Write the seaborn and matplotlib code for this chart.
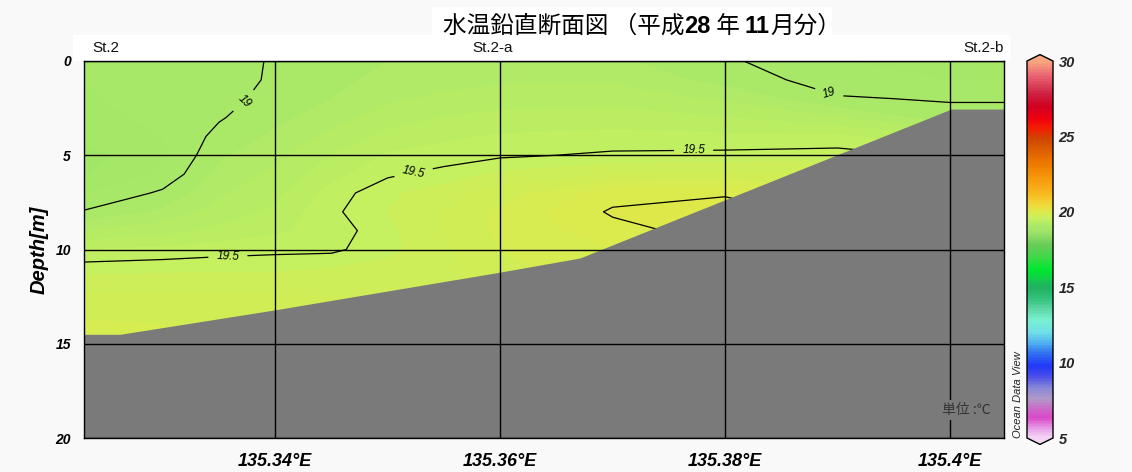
import numpy as np
import pandas as pd
import seaborn as sns
import matplotlib.pyplot as plt
from matplotlib.colors import LinearSegmentedColormap
from matplotlib.patches import Rectangle

# section grid: longitude [deg E] x depth [m], temperature [degC]
lons = [135.323, 135.33, 135.335, 135.34, 135.345, 135.35, 135.355,
        135.36, 135.37, 135.38, 135.39, 135.40, 135.405]
depths = [0, 1, 2, 3, 4, 5, 6, 7, 8, 9, 10, 11, 12, 14, 20]
temp = [
    [18.90, 18.95, 18.96, 19.01, 19.05, 19.10, 19.12, 19.14, 19.12, 19.02, 18.90, 18.85, 18.85],
    [18.90, 18.94, 18.97, 19.01, 19.07, 19.13, 19.16, 19.18, 19.18, 19.06, 18.95, 18.90, 18.90],
    [18.89, 18.93, 18.97, 19.03, 19.10, 19.18, 19.22, 19.25, 19.26, 19.18, 19.01, 18.99, 18.99],
    [18.87, 18.92, 18.99, 19.07, 19.15, 19.25, 19.30, 19.33, 19.35, 19.30, 19.20, 19.04, 19.04],
    [18.84, 18.90, 19.03, 19.12, 19.22, 19.33, 19.38, 19.41, 19.43, 19.42, 19.42, 19.30, 19.30],
    [18.76, 18.88, 19.08, 19.17, 19.30, 19.41, 19.44, 19.48, 19.52, 19.53, 19.55, 19.48, 19.48],
    [18.79, 18.92, 19.13, 19.22, 19.36, 19.48, 19.54, 19.62, 19.70, 19.72, 19.70, 19.60, 19.60],
    [18.89, 19.02, 19.18, 19.27, 19.44, 19.58, 19.65, 19.75, 19.95, 19.98, 19.85, 19.70, 19.70],
    [19.01, 19.12, 19.24, 19.32, 19.475, 19.60, 19.70, 19.82, 20.016, 20.08, 19.95, 19.80, 19.80],
    [19.20, 19.26, 19.32, 19.38, 19.44, 19.57, 19.70, 19.82, 19.96, 20.05, 19.98, 19.85, 19.85],
    [19.40, 19.42, 19.45, 19.47, 19.475, 19.57, 19.68, 19.80, 19.90, 19.99, 19.98, 19.85, 19.85],
    [19.55, 19.57, 19.58, 19.58, 19.60, 19.63, 19.66, 19.78, 19.85, 19.95, 19.95, 19.85, 19.85],
    [19.68, 19.68, 19.68, 19.68, 19.68, 19.68, 19.68, 19.75, 19.80, 19.90, 19.90, 19.85, 19.85],
    [19.82, 19.80, 19.80, 19.78, 19.76, 19.75, 19.75, 19.75, 19.78, 19.85, 19.85, 19.85, 19.85],
    [19.85, 19.85, 19.85, 19.82, 19.80, 19.80, 19.80, 19.80, 19.80, 19.85, 19.85, 19.85, 19.85],
]

# sea floor along the section
bottom_lon = [135.323, 135.3262, 135.34, 135.36, 135.3671, 135.4001, 135.405]
bottom_depth = [14.5, 14.5, 13.2, 11.2, 10.45, 2.55, 2.55]

contour_levels = [19, 19.5, 20]
label_levels = [19, 19.5]
label_pos = [(135.3372, 2.1), (135.3892, 1.8), (135.3523, 5.9),
             (135.3772, 4.7), (135.3358, 10.45)]

stations = ['St.2', 'St.2-a', 'St.2-b']
station_lon = [135.3237, 135.3593, 135.4048]
station_ha = ['left', 'center', 'right']

xticks = [135.34, 135.36, 135.38, 135.40]
xtick_labels = ['135.34°E', '135.36°E', '135.38°E', '135.4°E']
xminor = [135.33, 135.35, 135.37, 135.39]
yticks = [0, 5, 10, 15, 20]
yminor = [2.5, 7.5, 12.5, 17.5]

cbar_ticks = [5, 10, 15, 20, 25, 30]
cmap_values = [5.0, 5.6, 6.3, 7.0, 7.6, 8.3, 9.0, 9.8, 10.6, 11.3, 12.0, 12.8,
               13.5, 14.3, 15.0, 15.6, 16.2, 17.0, 17.8, 18.5, 18.8, 19.0, 19.5, 20.0,
               20.5, 21.2, 22.0, 23.0, 24.0, 24.8, 25.5, 26.2, 27.0, 28.0, 29.0, 30.0]
cmap_colors = ['#f4d4f4', '#e8a0e8', '#d848c8', '#c870c8', '#b098c8', '#8888d8',
               '#5050e8', '#2038f8', '#3070f0', '#50b0f0', '#70e0e8', '#78f0d0',
               '#60d8a8', '#30c078', '#20b060', '#10d048', '#00e830', '#40d848',
               '#68cc58', '#96de68', '#a4e868', '#a8e868', '#c4f060', '#dcea4c',
               '#f0d838', '#f8b820', '#f8a010', '#f08000', '#e06000', '#d04800',
               '#f02000', '#f00010', '#d00020', '#d02848', '#e86070', '#f8a880']

title_parts = ['水温鉛直断面図 （平成', '28', ' 年 ', '11', '月分）']
title_bold = [False, True, False, True, False]

sns.set_theme(style='white')
plt.rcParams['font.family'] = ['Liberation Sans', 'Noto Sans CJK JP', 'DejaVu Sans']
cjk = ['Noto Sans CJK JP', 'Liberation Sans', 'DejaVu Sans']

W, H = 1132, 472
ext = 0.017
fig = plt.figure(figsize=(W / 100, H / 100), dpi=100, facecolor='#f9f9f9')
ax = fig.add_axes([84 / W, 34 / H, 920 / W, 377 / H])
cax = fig.add_axes([1027 / W, (34 - 377 * ext) / H, 26 / W, 377 * (1 + 2 * ext) / H])

# white bands behind title and station names
fig.patches.append(Rectangle((73 / W, 1 - 61 / H), 938 / W, 26 / H, transform=fig.transFigure,
                             facecolor='white', edgecolor='none', zorder=-1))
fig.patches.append(Rectangle((432 / W, 1 - 35 / H), 400 / W, 28 / H, transform=fig.transFigure,
                             facecolor='white', edgecolor='none', zorder=-1))

pos = [(v - cmap_values[0]) / (cmap_values[-1] - cmap_values[0]) for v in cmap_values]
cmap = LinearSegmentedColormap.from_list('odv', list(zip(pos, cmap_colors)), N=512)
cmap.set_under(cmap_colors[0])
cmap.set_over(cmap_colors[-1])

grid = pd.DataFrame(temp, index=depths, columns=lons)
X, Y = np.meshgrid(grid.columns.values, grid.index.values)
cf = ax.contourf(X, Y, grid.values, levels=np.linspace(5, 30, 251), cmap=cmap,
                 extend='both', zorder=0)
cs = ax.contour(X, Y, grid.values, levels=contour_levels, colors='black',
                linewidths=0.9, zorder=1)
labels = ax.clabel(cs, levels=label_levels, manual=label_pos, inline=True,
                   fmt='%g', fontsize=8.5, inline_spacing=8)
for t in labels:
    t.set_fontstyle('italic')

ax.fill_between(bottom_lon, bottom_depth, 20, color='#7a7a7a', linewidth=0, zorder=2)

ax.set_xlim(135.323, 135.4048)
ax.set_ylim(20, 0)
ax.set_xticks(xticks)
ax.set_xticklabels(xtick_labels, fontsize=13, fontweight='bold', fontstyle='italic')
ax.set_xticks(xminor, minor=True)
ax.set_yticks(yticks)
ax.set_yticklabels([str(v) for v in yticks], fontsize=10, fontweight='bold', fontstyle='italic')
ax.set_yticks(yminor, minor=True)
ax.tick_params(axis='both', which='both', direction='out', length=6.5, width=1,
               color='black', labelcolor='black')
ax.tick_params(axis='x', which='major', pad=4)
ax.tick_params(axis='y', which='major', pad=3)
ax.grid(True, which='major', color='black', linewidth=1)
ax.set_axisbelow(False)
for s in ax.spines.values():
    s.set_color('black')
    s.set_linewidth(1)
    s.set_zorder(5)

ax.set_ylabel('Depth[m]', fontsize=14.5, fontweight='bold', fontstyle='italic',
              color='black', labelpad=5)
ax.set_xlabel('')

for name, lon, ha in zip(stations, station_lon, station_ha):
    ax.text(lon, 1.035, name, transform=ax.get_xaxis_transform(), ha=ha, va='center',
            fontsize=11, color='#111111')

ax.text(0.959, 0.074, '単位 :℃', transform=ax.transAxes, ha='center', va='center',
        fontsize=10, color='#333333', family=cjk, zorder=4,
        bbox=dict(facecolor='#7a7a7a', edgecolor='none', pad=2))

cb = fig.colorbar(cf, cax=cax, extend='both', extendfrac=ext, ticks=cbar_ticks)
cb.outline.set_linewidth(1)
cb.outline.set_edgecolor('black')
cax.tick_params(length=0, pad=4)
cax.set_yticklabels([str(v) for v in cbar_ticks], fontsize=10.5, fontweight='bold',
                    fontstyle='italic')

fig.text(1018 / W, 34 / H, 'Ocean Data View', rotation=90, ha='center', va='bottom',
         fontsize=8, fontstyle='italic', color='#222222')

# title, with bold digits
fig.canvas.draw()
r = fig.canvas.get_renderer()
x = 443 / W
for part, bold in zip(title_parts, title_bold):
    t = fig.text(x, 1 - 33 / H, part, ha='left', va='baseline', fontsize=17,
                 fontweight='bold' if bold else 'normal', family=cjk if not bold else
                 ['Liberation Sans', 'Noto Sans CJK JP'], color='black')
    bb = t.get_window_extent(r)
    x = fig.transFigure.inverted().transform((bb.x1, 0))[0]

fig.savefig('out.png', dpi=100, facecolor=fig.get_facecolor())
